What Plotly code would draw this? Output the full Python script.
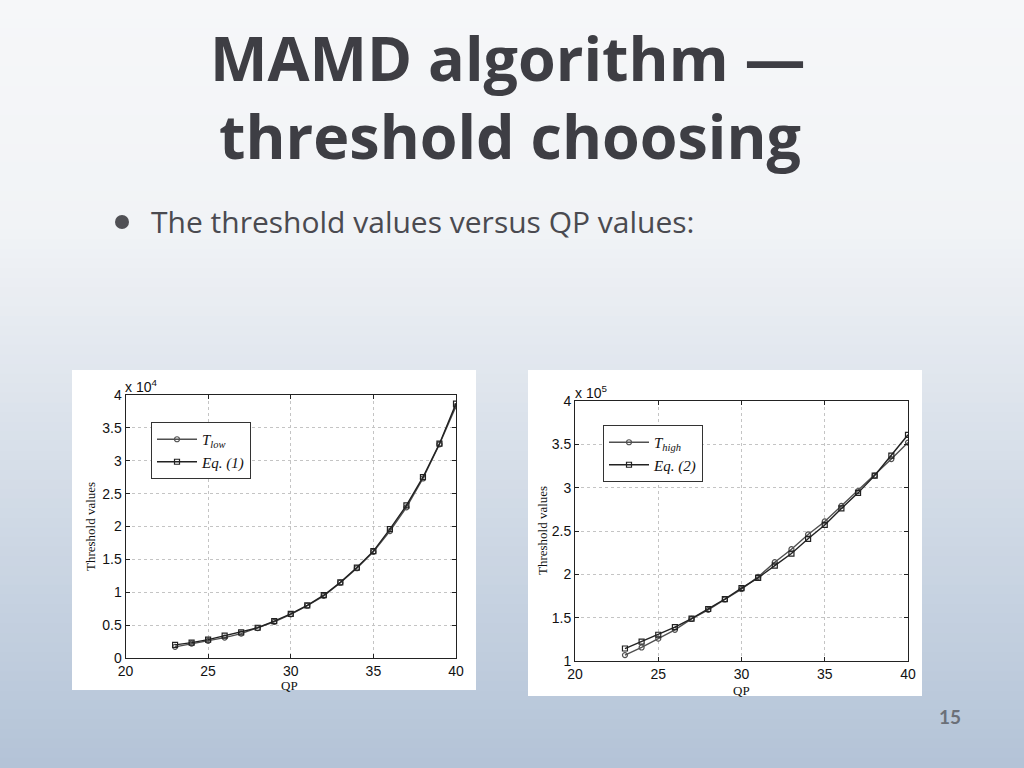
import plotly.graph_objects as go

# ---------------- data ----------------
qp = [23, 24, 25, 26, 27, 28, 29, 30, 31, 32, 33, 34, 35, 36, 37, 38, 39, 40]

t_low = [1700, 2180, 2600, 3100, 3700, 4550, 5500, 6650, 7950, 9450, 11450, 13650, 16150, 19300, 22900, 27300, 32500, 38300]
eq1 = [2000, 2330, 2800, 3400, 3900, 4600, 5600, 6700, 8000, 9550, 11500, 13750, 16250, 19600, 23200, 27500, 32600, 38700]

t_high = [106800, 115600, 125800, 136000, 148500, 159000, 171000, 183000, 197000, 214000, 229000, 246000, 261000, 279000, 296000, 314000, 333000, 352000]
eq2 = [114400, 122400, 130300, 139000, 149000, 160000, 171500, 184000, 196000, 210000, 224000, 241000, 257000, 276000, 294000, 314000, 337000, 361000]

x_ticks = [20, 25, 30, 35, 40]
y1_ticks = [0, 5000, 10000, 15000, 20000, 25000, 30000, 35000, 40000]
y1_text = ["0", "0.5", "1", "1.5", "2", "2.5", "3", "3.5", "4"]
y2_ticks = [100000, 150000, 200000, 250000, 300000, 350000, 400000]
y2_text = ["1", "1.5", "2", "2.5", "3", "3.5", "4"]

title_line1 = "MAMD algorithm \u2014"
title_line2 = "threshold choosing"
bullet_text = "The threshold values versus QP values:"
page_no = "15"

# ---------------- figure ----------------
W, H = 1024, 768
def px(x):
    return x / W
def py(y):
    return 1 - y / H

fig = go.Figure()

line_a = "#505050"
line_b = "#222222"
mk = dict(size=5, line=dict(width=1.2))

fig.add_trace(go.Scatter(x=qp, y=t_low, mode="lines+markers", name="<i>T<sub>low</sub></i>",
                         line=dict(color=line_a, width=1.4),
                         marker=dict(symbol="circle-open", color=line_a, **mk),
                         xaxis="x", yaxis="y", legend="legend"))
fig.add_trace(go.Scatter(x=qp, y=eq1, mode="lines+markers", name="<i>Eq. (1)</i>",
                         line=dict(color=line_b, width=1.4),
                         marker=dict(symbol="square-open", color=line_b, **mk),
                         xaxis="x", yaxis="y", legend="legend"))
fig.add_trace(go.Scatter(x=qp, y=t_high, mode="lines+markers", name="<i>T<sub>high</sub></i>",
                         line=dict(color=line_a, width=1.4),
                         marker=dict(symbol="circle-open", color=line_a, **mk),
                         xaxis="x2", yaxis="y2", legend="legend2"))
fig.add_trace(go.Scatter(x=qp, y=eq2, mode="lines+markers", name="<i>Eq. (2)</i>",
                         line=dict(color=line_b, width=1.4),
                         marker=dict(symbol="square-open", color=line_b, **mk),
                         xaxis="x2", yaxis="y2", legend="legend2"))

tick_font = dict(family="Liberation Sans, Arial, sans-serif", size=14, color="#111")
ax_common = dict(showline=True, linecolor="#222", linewidth=1, mirror="ticks",
                 ticks="inside", ticklen=4, tickcolor="#222",
                 showgrid=True, gridcolor="#c4c4c4", griddash="dot", gridwidth=1,
                 zeroline=False, tickfont=tick_font, automargin=False)

L = dict(x0=125.5, x1=456, y0=395, y1=658)
R = dict(x0=575, x1=908, y0=401, y1=661)

leg_font = dict(family="Liberation Serif, Times New Roman, serif", size=15, color="#111")
fig.update_layout(
    width=W, height=H, margin=dict(l=0, r=0, t=0, b=0, pad=0, autoexpand=False),
    paper_bgcolor="#e6ebf1", plot_bgcolor="white",
    xaxis=dict(domain=[px(L["x0"]), px(L["x1"])], range=[20, 40], tickvals=x_ticks,
               anchor="y", **ax_common),
    yaxis=dict(domain=[py(L["y1"]), py(L["y0"])], range=[0, 40000], tickvals=y1_ticks,
               ticktext=y1_text, anchor="x", **ax_common),
    xaxis2=dict(domain=[px(R["x0"]), px(R["x1"])], range=[20, 40], tickvals=x_ticks,
                anchor="y2", **ax_common),
    yaxis2=dict(domain=[py(R["y1"]), py(R["y0"])], range=[100000, 400000], tickvals=y2_ticks,
                ticktext=y2_text, anchor="x2", **ax_common),
    legend=dict(x=px(151), y=py(422), xanchor="left", yanchor="top",
                bgcolor="white", bordercolor="#333", borderwidth=1,
                font=leg_font, tracegroupgap=8, itemwidth=40),
    legend2=dict(x=px(603), y=py(425), xanchor="left", yanchor="top",
                 bgcolor="white", bordercolor="#333", borderwidth=1,
                 font=leg_font, tracegroupgap=8, itemwidth=40),
    showlegend=True,
)

# background gradient
shapes = []
def mix(c1, c2, t):
    return "#%02x%02x%02x" % tuple(round(a + (b - a) * t) for a, b in zip(c1, c2))
top = (246, 247, 249)
mid = (241, 243, 246)
bot = (179, 195, 215)
N = 80
for i in range(N):
    y0 = H * i / N
    y1 = H * (i + 1) / N
    yc = (y0 + y1) / 2
    if yc < 230:
        c = mix(top, mid, yc / 230)
    else:
        c = mix(mid, bot, (yc - 230) / (H - 230))
    ya = py(y1) - (0.05 if i == N - 1 else 0)
    yb = py(y0) + (0.05 if i == 0 else 0.001)
    shapes.append(dict(type="rect", xref="paper", yref="paper", x0=-0.05, x1=1.05,
                       y0=ya, y1=yb, fillcolor=c, line=dict(width=0), layer="below"))
# white panels
for (a, b, c, d) in [(72, 476, 370, 690), (528, 922, 370, 696)]:
    shapes.append(dict(type="rect", xref="paper", yref="paper", x0=px(a), x1=px(b),
                       y0=py(d), y1=py(c), fillcolor="white", line=dict(width=0), layer="below"))
# bullet dot
shapes.append(dict(type="circle", xref="paper", yref="paper", x0=px(115), x1=px(129),
                   y0=py(229), y1=py(215), fillcolor="#505055", line=dict(width=0)))
fig.update_layout(shapes=shapes)

serif = "Liberation Serif, Times New Roman, serif"
title_font = dict(family="Open Sans, sans-serif", size=61, color="#3e3e44", weight="bold")
ann = [
    dict(text=title_line1, x=px(507), y=py(57), xanchor="center", yanchor="middle",
         font=title_font, showarrow=False, xref="paper", yref="paper"),
    dict(text=title_line2, x=px(510), y=py(135), xanchor="center", yanchor="middle",
         font=title_font, showarrow=False, xref="paper", yref="paper"),
    dict(text=bullet_text, x=px(149), y=py(221), xanchor="left", yanchor="middle",
         font=dict(family="Open Sans, sans-serif", size=30, color="#4a4a50"), showarrow=False,
         xref="paper", yref="paper"),
    dict(text="<b>" + page_no + "</b>", x=px(950), y=py(716), xanchor="center", yanchor="middle",
         font=dict(family="Lato, sans-serif", size=19, color="#6b7078"), showarrow=False,
         xref="paper", yref="paper"),
    dict(text="x 10<sup>4</sup>", x=px(123), y=py(386), xanchor="left", yanchor="middle",
         font=dict(family="Liberation Sans, Arial, sans-serif", size=14, color="#111"),
         showarrow=False, xref="paper", yref="paper"),
    dict(text="x 10<sup>5</sup>", x=px(573), y=py(392), xanchor="left", yanchor="middle",
         font=dict(family="Liberation Sans, Arial, sans-serif", size=14, color="#111"),
         showarrow=False, xref="paper", yref="paper"),
    dict(text="Threshold values", x=px(90), y=py(527), xanchor="center", yanchor="middle",
         textangle=-90, font=dict(family=serif, size=13, color="#111"),
         showarrow=False, xref="paper", yref="paper"),
    dict(text="QP", x=px(289), y=py(685), xanchor="center", yanchor="middle",
         font=dict(family=serif, size=13, color="#111"),
         showarrow=False, xref="paper", yref="paper"),
    dict(text="Threshold values", x=px(542), y=py(531), xanchor="center", yanchor="middle",
         textangle=-90, font=dict(family=serif, size=13, color="#111"),
         showarrow=False, xref="paper", yref="paper"),
    dict(text="QP", x=px(741), y=py(690), xanchor="center", yanchor="middle",
         font=dict(family=serif, size=13, color="#111"),
         showarrow=False, xref="paper", yref="paper"),
]
fig.update_layout(annotations=ann)

fig.write_html("out.html", config={"displayModeBar": False},
               post_script="document.body.style.margin='0';document.body.style.overflow='hidden';")
